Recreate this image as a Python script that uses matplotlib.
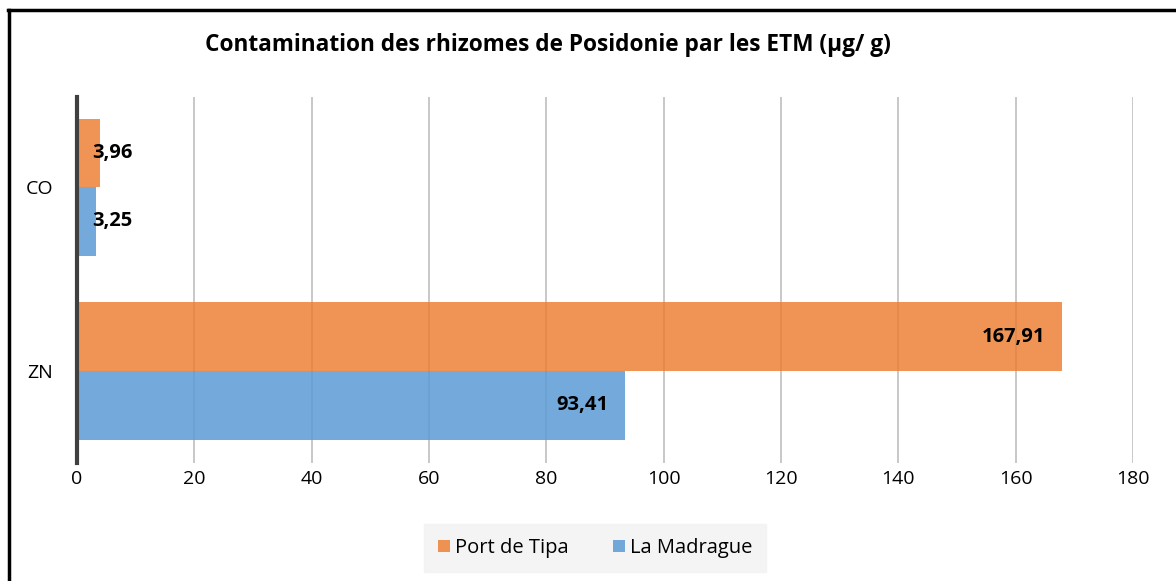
import numpy as np
import matplotlib.pyplot as plt
from matplotlib.lines import Line2D

plt.rcParams['font.family'] = ['Open Sans', 'DejaVu Sans']

# data
elements = ["ZN", "CO"]
port_de_tipa = [167.91, 3.96]
la_madrague = [93.41, 3.25]
xticks = [0, 20, 40, 60, 80, 100, 120, 140, 160, 180]

orange = "#ED7D31"
blue = "#5B9BD5"


def fmt(v):
    return ("%.2f" % v).replace(".", ",")


def label_bars(ax, bars, values):
    for b, v in zip(bars, values):
        yc = b.get_y() + b.get_height() / 2
        if v < 10:
            ax.annotate(fmt(v), (0, yc), xytext=(15, 0), textcoords="offset pixels",
                        ha="left", va="center", fontsize=14.5, fontweight="bold")
        else:
            ax.annotate(fmt(v), (v, yc), xytext=(-17, 0), textcoords="offset pixels",
                        ha="right", va="center", fontsize=14.5, fontweight="bold")


def main():
    fig = plt.figure(figsize=(11.76, 5.81), dpi=100)
    ax = fig.add_axes([0.0655, 0.203, 0.898, 0.630])

    y = np.arange(len(elements))
    h = 0.373
    b1 = ax.barh(y + h / 2, port_de_tipa, height=h, color=orange, alpha=0.82,
                 label="Port de Tipa", zorder=2)
    b2 = ax.barh(y - h / 2, la_madrague, height=h, color=blue, alpha=0.85,
                 label="La Madrague", zorder=2)
    label_bars(ax, b1, port_de_tipa)
    label_bars(ax, b2, la_madrague)

    ax.set_xlim(0, 180)
    ax.set_ylim(-0.5, 1.49)
    ax.set_xticks(xticks)
    ax.set_yticks(y)
    ax.set_yticklabels(elements)
    ax.tick_params(length=0, labelsize=14, pad=5)
    ax.tick_params(axis="y", pad=17)
    ax.xaxis.grid(True, color="#BFBFBF", linewidth=1.2, zorder=1)
    ax.set_axisbelow(True)
    for s in ["top", "right", "bottom"]:
        ax.spines[s].set_visible(False)
    ax.spines["left"].set_color("#404040")
    ax.spines["left"].set_linewidth(3)
    ax.spines["left"].set_zorder(3)

    fig.text(548 / 1176, 1 - 45 / 581,
             "Contamination des rhizomes de Posidonie par les ETM (µg/ g)",
             ha="center", va="center", fontsize=16.3, fontweight="bold")

    leg = ax.legend(handles=[b1, b2], loc="center", bbox_to_anchor=(595 / 1176, 1 - 548 / 581),
                    bbox_transform=fig.transFigure, ncol=2, frameon=True, fontsize=14.5,
                    handlelength=0.6, handleheight=0.6, handletextpad=0.25,
                    columnspacing=2.2, borderpad=0.7, fancybox=False)
    leg.get_frame().set_facecolor("#F2F2F2")
    leg.get_frame().set_edgecolor("#F2F2F2")

    # outer border (top and left only visible)
    fig.add_artist(Line2D([9 / 1176, 9 / 1176], [0, 1 - 9.5 / 581], color="black",
                          linewidth=2.5, transform=fig.transFigure))
    fig.add_artist(Line2D([8 / 1176, 1], [1 - 9.5 / 581, 1 - 9.5 / 581], color="black",
                          linewidth=2.5, transform=fig.transFigure))

    fig.savefig("out.png", dpi=100, facecolor="white")


if __name__ == '__main__':
    main()
